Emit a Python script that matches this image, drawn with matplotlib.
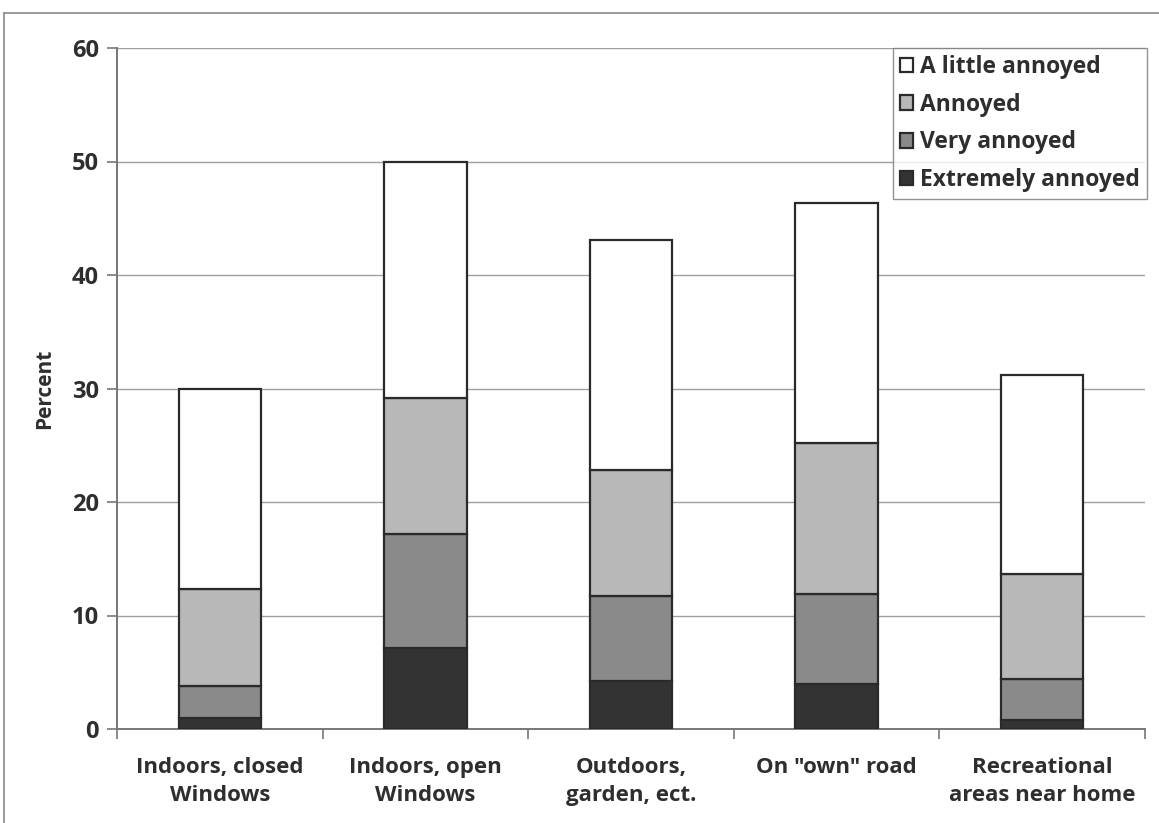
import matplotlib
matplotlib.use("Agg")
import matplotlib.pyplot as plt
from matplotlib.lines import Line2D
import numpy as np

plt.rcParams['font.family'] = ['Open Sans', 'DejaVu Sans']

categories = ["Indoors, closed\nWindows", "Indoors, open\nWindows", "Outdoors,\ngarden, ect.",
              "On \"own\" road", "Recreational\nareas near home"]
extremely = [1.0, 7.1, 4.2, 4.0, 0.8]
very = [2.8, 10.1, 7.5, 7.9, 3.6]
annoyed = [8.5, 12.0, 11.1, 13.3, 9.3]
little = [17.7, 20.8, 20.3, 21.1, 17.5]
series_names = ["Extremely annoyed", "Very annoyed", "Annoyed", "A little annoyed"]
series_colors = ["#333333", "#8a8a8a", "#b8b8b8", "#ffffff"]
yticks = [0, 10, 20, 30, 40, 50, 60]

W, H = 1159, 823
fig = plt.figure(figsize=(W / 100, H / 100), dpi=100)
ax = fig.add_axes([117 / W, 1 - 729 / H, (1145 - 117) / W, (729 - 48) / H])

text_color = "#2e2e2e"
x = np.arange(len(categories))
bottom = np.zeros(len(categories))
bars = []
for vals, name, col in zip([extremely, very, annoyed, little], series_names, series_colors):
    b = ax.bar(x, vals, width=0.4, bottom=bottom, color=col, edgecolor="#2a2a2a",
               linewidth=1.6, label=name, zorder=3)
    bars.append(b)
    bottom += np.array(vals)

ax.set_xlim(-0.5, len(categories) - 0.5)
ax.set_ylim(0, 60)
ax.set_yticks(yticks)
ax.set_yticklabels([str(v) for v in yticks], fontsize=17, fontweight="bold", color=text_color)
ax.yaxis.grid(True, color="#a0a0a0", linewidth=1.0, zorder=0)
ax.set_axisbelow(True)

# Category labels centred under the bars; tick marks between categories
ax.set_xticks(x)
ax.set_xticklabels(categories, fontsize=16, fontweight="bold", color=text_color, linespacing=1.45)
ax.tick_params(axis="x", length=0, pad=20)
ax.set_xticks(np.arange(-0.5, len(categories) + 0.5, 1), minor=True)
ax.tick_params(axis="x", which="minor", length=7, color="#777777", width=1.2)
ax.tick_params(axis="y", length=7, color="#777777", width=1.2, pad=6)

for side in ["top", "right"]:
    ax.spines[side].set_visible(False)
for side in ["left", "bottom"]:
    ax.spines[side].set_color("#777777")
    ax.spines[side].set_linewidth(1.4)

ax.set_ylabel("Percent", fontsize=15, fontweight="bold", color=text_color, labelpad=12)

handles = [bars[3], bars[2], bars[1], bars[0]]
labels = [series_names[3], series_names[2], series_names[1], series_names[0]]
leg = ax.legend(handles, labels, loc="upper right", bbox_to_anchor=(1.002, 1.0), borderaxespad=0,
                prop={"weight": "bold", "size": 16.5}, frameon=True, fancybox=False,
                edgecolor="#777777", handlelength=0.6, handleheight=0.6, handletextpad=0.3,
                labelspacing=0.6, borderpad=0.3)
leg.get_frame().set_linewidth(1.0)
for t in leg.get_texts():
    t.set_color(text_color)

# Outer chart frame
fig.add_artist(Line2D([4 / W, 1.0], [1 - 13 / H, 1 - 13 / H], color="#8a8a8a", linewidth=1.2))
fig.add_artist(Line2D([4 / W, 4 / W], [0.0, 1 - 13 / H], color="#8a8a8a", linewidth=1.2))

fig.savefig("out.png", dpi=100, facecolor="white")
